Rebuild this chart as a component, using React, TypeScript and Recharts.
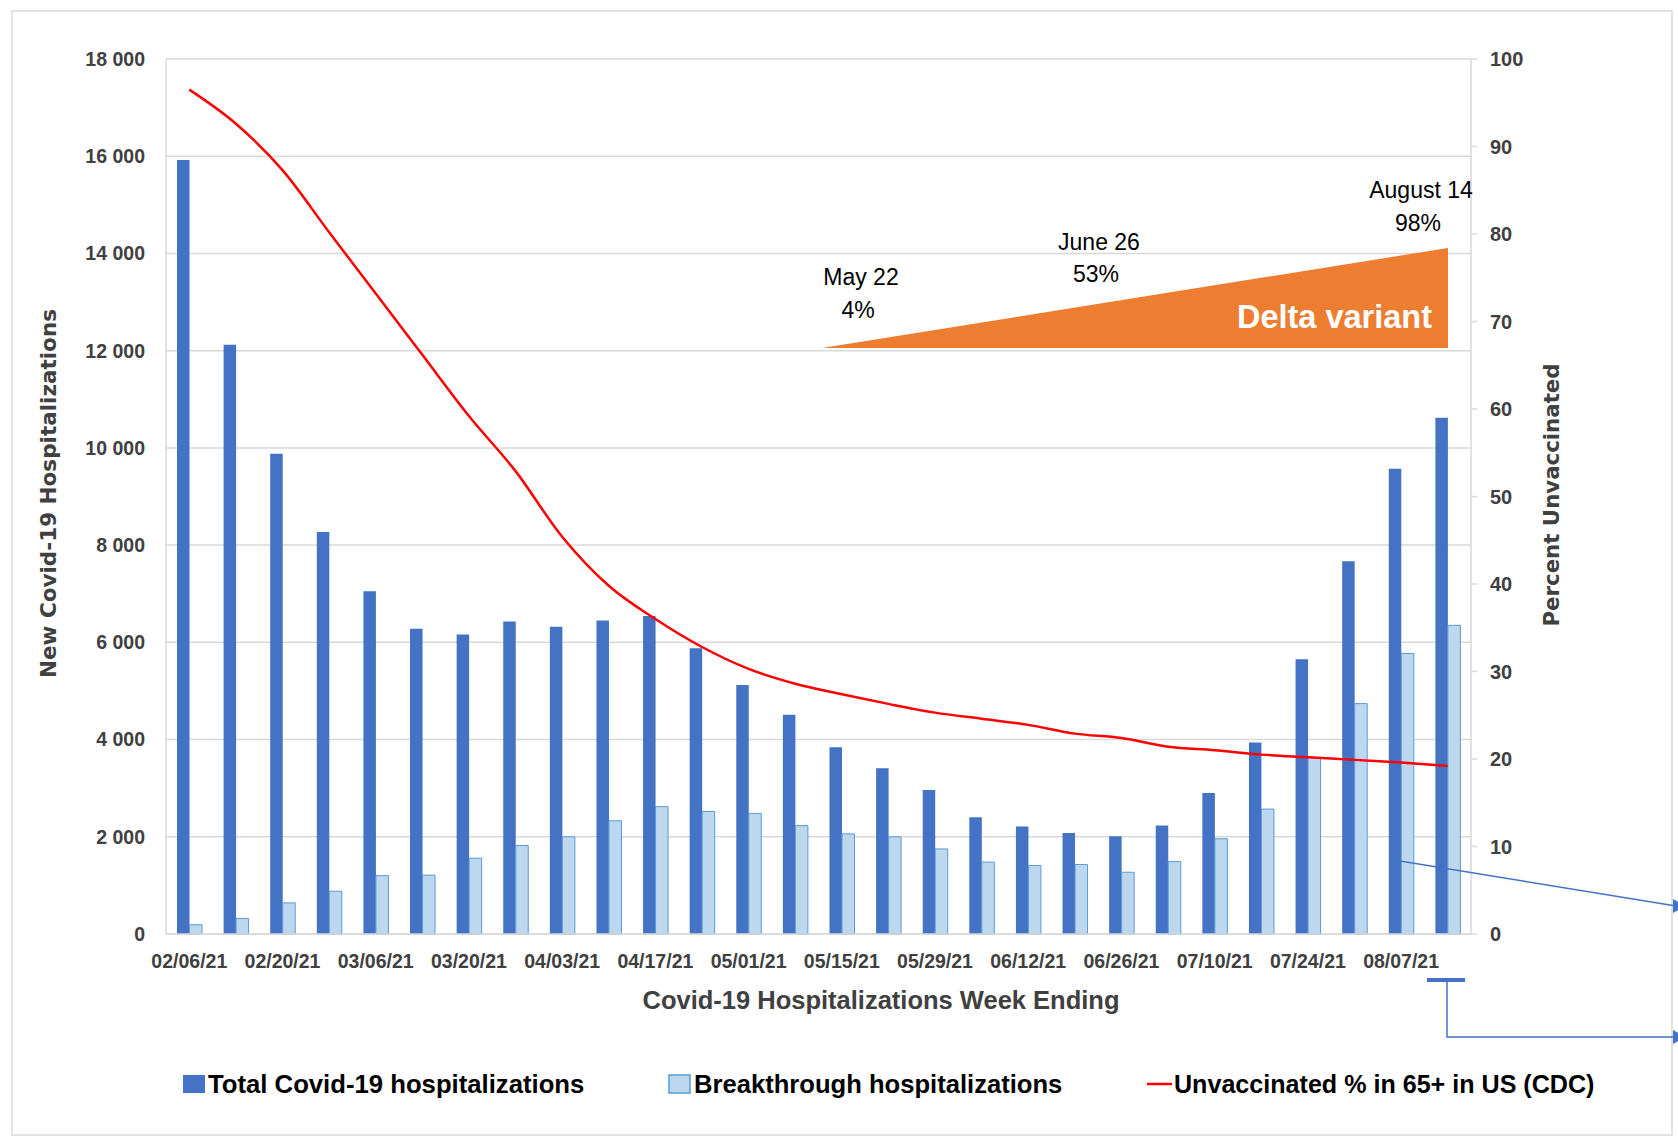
import React from "react";
import {
  ComposedChart,
  Bar,
  Line,
  XAxis,
  YAxis,
  CartesianGrid,
} from "recharts";

// ---------- data ----------
const weeks = [
  "02/06/21", "02/13/21", "02/20/21", "02/27/21", "03/06/21", "03/13/21", "03/20/21",
  "03/27/21", "04/03/21", "04/10/21", "04/17/21", "04/24/21", "05/01/21", "05/08/21",
  "05/15/21", "05/22/21", "05/29/21", "06/05/21", "06/12/21", "06/19/21", "06/26/21",
  "07/03/21", "07/10/21", "07/17/21", "07/24/21", "07/31/21", "08/07/21", "08/14/21",
];

const totalHosp = [
  15920, 12120, 9880, 8270, 7050, 6280, 6160, 6430, 6320, 6450, 6540, 5880, 5120, 4510,
  3840, 3410, 2960, 2400, 2210, 2080, 2010, 2230, 2900, 3940, 5650, 7670, 9570, 10620,
];

const breakthroughHosp = [
  190, 320, 640, 880, 1200, 1210, 1560, 1820, 2000, 2330, 2620, 2520, 2480, 2230,
  2060, 2000, 1750, 1480, 1410, 1430, 1270, 1490, 1960, 2570, 3630, 4740, 5770, 6350,
];

const unvaccinatedPct = [
  96.5, 92.6, 87.3, 80.2, 73.2, 66.2, 59.2, 52.9, 45.4, 39.8, 36.0, 32.8, 30.3, 28.6,
  27.4, 26.3, 25.3, 24.6, 23.9, 22.9, 22.4, 21.4, 21.0, 20.5, 20.2, 19.9, 19.6, 19.2,
];

const leftTicks = [0, 2000, 4000, 6000, 8000, 10000, 12000, 14000, 16000, 18000];
const rightTicks = [0, 10, 20, 30, 40, 50, 60, 70, 80, 90, 100];

const legendLabels = [
  "Total Covid-19 hospitalizations",
  "Breakthrough hospitalizations",
  "Unvaccinated % in 65+ in US (CDC)",
];

const deltaNotes = [
  { date: "May 22", share: "4%" },
  { date: "June 26", share: "53%" },
  { date: "August 14", share: "98%" },
];

const data = weeks.map((w, i) => ({
  week: w,
  total: totalHosp[i],
  breakthrough: breakthroughHosp[i],
  unvacc: unvaccinatedPct[i],
}));

// ---------- layout ----------
const W = 1678;
const H = 1139;
const PLOT_LEFT = 166;
const PLOT_TOP = 59;
const PLOT_RIGHT = 1471;
const PLOT_BOTTOM = 934;
const YAXIS_W = 60;
const XAXIS_H = 30;

const DARK = "#4472c4";
const LIGHT = "#bdd7ee";
const LIGHT_STROKE = "#5b9bd5";
const RED = "#ff0000";
const ORANGE = "#ed7d31";
const GRID = "#d9d9d9";
const AXIS_TEXT = "#404040";
const FONT = "'Liberation Sans', Arial, Helvetica, sans-serif";
const TITLE_FONT = "'DejaVu Sans', Verdana, sans-serif";

const fmtThousands = (v: number) =>
  v >= 1000 ? `${Math.floor(v / 1000)} ${String(v % 1000).padStart(3, "0")}` : String(v);

export default function App() {
  const plotMidY = (PLOT_TOP + PLOT_BOTTOM) / 2;
  return (
    <div
      style={{
        position: "absolute",
        left: 0,
        top: 0,
        width: W,
        height: H,
        background: "#ffffff",
        overflow: "hidden",
      }}
    >
      <ComposedChart
        width={W}
        height={H}
        data={data}
        margin={{
          top: PLOT_TOP,
          left: PLOT_LEFT - YAXIS_W,
          right: W - PLOT_RIGHT - YAXIS_W,
          bottom: H - PLOT_BOTTOM - XAXIS_H,
        }}
        barGap={0}
      >
        <CartesianGrid vertical={false} stroke={GRID} strokeWidth={1.5} yAxisId="left" />
        <XAxis
          dataKey="week"
          height={XAXIS_H}
          interval={1}
          tickSize={0}
          tickMargin={20}
          axisLine={{ stroke: GRID, strokeWidth: 1.5 }}
          tickLine={false}
          tick={{ fill: AXIS_TEXT, fontSize: 19.5, fontWeight: 700, fontFamily: FONT }}
        />
        <YAxis
          yAxisId="left"
          orientation="left"
          width={YAXIS_W}
          domain={[0, 18000]}
          ticks={leftTicks}
          interval={0}
          tickFormatter={fmtThousands}
          tickSize={0}
          tickMargin={21}
          tickLine={false}
          axisLine={{ stroke: GRID, strokeWidth: 1.5 }}
          tick={{ fill: AXIS_TEXT, fontSize: 19.5, fontWeight: 700, fontFamily: FONT }}
        />
        <YAxis
          yAxisId="right"
          orientation="right"
          width={YAXIS_W}
          domain={[0, 100]}
          ticks={rightTicks}
          interval={0}
          tickSize={6}
          tickMargin={13}
          tickLine={{ stroke: GRID, strokeWidth: 1.5 }}
          axisLine={{ stroke: GRID, strokeWidth: 1.5 }}
          tick={{ fill: AXIS_TEXT, fontSize: 20, fontWeight: 700, fontFamily: FONT }}
        />
        <Bar
          yAxisId="left"
          dataKey="total"
          fill={DARK}
          barSize={12.5}
          isAnimationActive={false}
        />
        <Bar
          yAxisId="left"
          dataKey="breakthrough"
          fill={LIGHT}
          stroke={LIGHT_STROKE}
          strokeWidth={1}
          barSize={12.5}
          isAnimationActive={false}
        />
        <Line
          yAxisId="right"
          dataKey="unvacc"
          type="monotone"
          stroke={RED}
          strokeWidth={2.5}
          dot={false}
          activeDot={false}
          isAnimationActive={false}
        />
      </ComposedChart>

      <svg
        width={W}
        height={H}
        style={{ position: "absolute", left: 0, top: 0, pointerEvents: "none" }}
      >
        {/* frame */}
        <rect x={12} y={11} width={1660} height={1124} fill="none" stroke={GRID} strokeWidth={1.5} />

        {/* axis titles */}
        <text
          x={48}
          y={plotMidY - 3}
          transform={`rotate(-90 48 ${plotMidY - 3})`}
          textAnchor="middle"
          dominantBaseline="central"
          fontFamily={TITLE_FONT}
          fontWeight={700}
          fontSize={21.5}
          fill={AXIS_TEXT}
        >
          New Covid-19 Hospitalizations
        </text>
        <text
          x={1551}
          y={495}
          transform={`rotate(-90 1551 495)`}
          textAnchor="middle"
          dominantBaseline="central"
          fontFamily={TITLE_FONT}
          fontWeight={700}
          fontSize={21.3}
          fill={AXIS_TEXT}
        >
          Percent Unvaccinated
        </text>
        <text
          x={881}
          y={1000}
          textAnchor="middle"
          dominantBaseline="central"
          fontFamily={FONT}
          fontWeight={700}
          fontSize={25.5}
          fill={AXIS_TEXT}
        >
          Covid-19 Hospitalizations Week Ending
        </text>

        {/* Delta variant wedge */}
        <polygon points="822,348 1448,348 1448,248" fill={ORANGE} />
        <text
          x={1432}
          y={317}
          textAnchor="end"
          dominantBaseline="central"
          fontFamily={FONT}
          fontWeight={700}
          fontSize={32.5}
          fill="#ffffff"
        >
          Delta variant
        </text>
        {[
          { x: 861, y1: 277, y2: 310 },
          { x: 1099, y1: 242, y2: 274 },
          { x: 1421, y1: 190, y2: 223 },
        ].map((p, i) => (
          <g key={i}>
            <text
              x={p.x}
              y={p.y1}
              textAnchor="middle"
              dominantBaseline="central"
              fontFamily={FONT}
              fontSize={23}
              fill="#000000"
            >
              {deltaNotes[i].date}
            </text>
            <text
              x={p.x - 3}
              y={p.y2}
              textAnchor="middle"
              dominantBaseline="central"
              fontFamily={FONT}
              fontSize={23}
              fill="#000000"
            >
              {deltaNotes[i].share}
            </text>
          </g>
        ))}

        {/* blue connectors */}
        <line x1={1400} y1={861} x2={1676} y2={906} stroke={DARK} strokeWidth={1.5} />
        <polygon points="1673,899 1673,913 1686,906" fill={DARK} />
        <line x1={1427} y1={980} x2={1465} y2={980} stroke={DARK} strokeWidth={4} />
        <polyline points="1447,980 1447,1037 1676,1037" fill="none" stroke={DARK} strokeWidth={1.5} />
        <polygon points="1673,1030 1673,1044 1686,1037" fill={DARK} />

        {/* legend */}
        <rect x={183} y={1075} width={22} height={18} fill={DARK} />
        <text
          x={208}
          y={1084}
          dominantBaseline="central"
          fontFamily={FONT}
          fontWeight={700}
          fontSize={25.7}
          fill="#000000"
        >
          {legendLabels[0]}
        </text>
        <rect x={669} y={1075} width={21} height={18} fill={LIGHT} stroke={LIGHT_STROKE} strokeWidth={1.5} />
        <text
          x={694}
          y={1084}
          dominantBaseline="central"
          fontFamily={FONT}
          fontWeight={700}
          fontSize={25.6}
          fill="#000000"
        >
          {legendLabels[1]}
        </text>
        <line x1={1147} y1={1084} x2={1172} y2={1084} stroke={RED} strokeWidth={2.5} />
        <text
          x={1174}
          y={1084}
          dominantBaseline="central"
          fontFamily={FONT}
          fontWeight={700}
          fontSize={25.1}
          fill="#000000"
        >
          {legendLabels[2]}
        </text>
      </svg>
    </div>
  );
}
